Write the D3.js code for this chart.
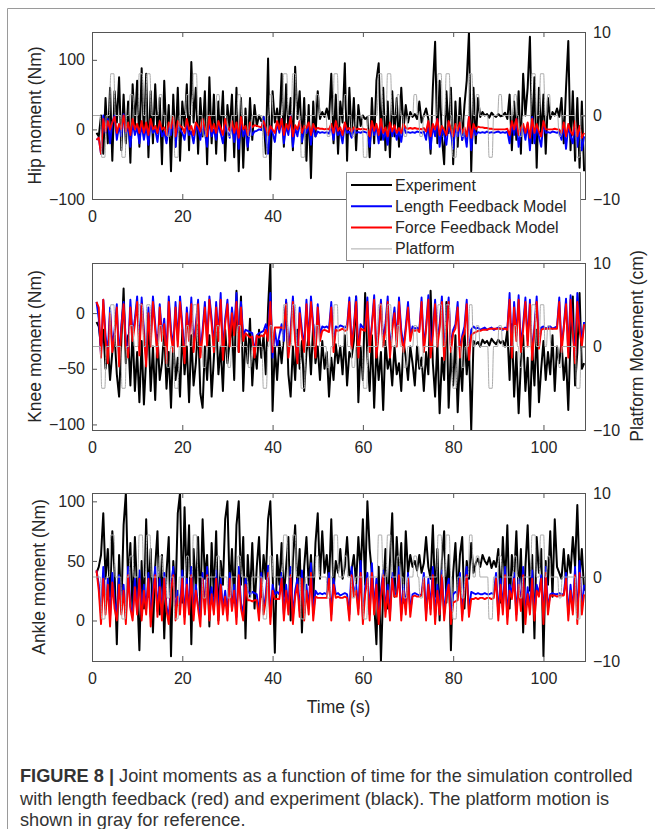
<!DOCTYPE html>
<html>
<head>
<meta charset="utf-8">
<script src="https://d3js.org/d3.v7.min.js"></script>
<style>
  body { margin: 0; background: #fff; }
  svg text { font-family: "Liberation Sans", Arial, sans-serif; }
</style>
</head>
<body>
<div id="chart"></div>
<script>
// samples start at 1 s, one every 0.5 s (217 samples up to 109 s)
var tStart = 1, tStep = 0.5

// ---- hip moment (Nm) ----
var hipExp = [
  -5, -10, 20, -35, 45, -20, 60, -45, 55, 10, 75, -30, 50, -20, 40, -48, 65, 5, 70, -25,
  88, -10, 80, -40, 55, -20, 65, -5, 45, -50, 70, -15, 35, -60, 50, -25, 60, -45, 40, 5,
  65, -30, 97, 10, 60, -35, 45, -10, 55, -50, 75, -20, 50, -35, 40, -5, 55, -45, 35, 0,
  50, -40, 60, -60, 45, -55, 30, -30, 45, -15, 35, 5, 20, 12, 18, -35, 102, -72, 55, 10,
  30, 5, 80, -25, 65, 0, 45, -30, 90, 15, 55, -20, 45, -45, 35, -70, 40, -10, 55, 15,
  25, 18, 30, 15, 80, -20, 50, -35, 40, 10, 95, -45, 60, -10, 45, -30, 35, 5, 20, 15,
  18, -40, 45, -20, 70, 95, -15, 60, -30, 40, -40, 55, -10, 45, -25, 60, 0, 35, 10, 25,
  18, 22, 15, 40, 10, 20, 30, 15, -35, 60, 126, -20, 70, -10, -50, 55, -5, 60, -50, 40,
  -25, 45, -15, 35, 70, 140, -60, 60, -20, 45, 18, 25, 20, 22, 17, 24, 20, 18, 22, 19,
  20, 24, 15, 50, -30, 40, -15, 55, -35, 80, 20, 60, 133, -20, 75, -55, 60, -10, 50, -35,
  45, 15, 25, 20, 30, 18, 45, -20, 60, 127, -30, 55, -45, 45, -55, 40, -60]
var hipLen = [
  -15, -12, -35, 20, -5, 15, -20, 10, 20, -15, 5, -10, 22, -5, 5, -25, 10, -8, 3, -20,
  8, -15, 5, -22, 12, -5, 0, -18, 10, -10, -3, -20, 5, -8, 15, -25, 8, 0, -5, -15,
  10, -8, -3, -20, 5, 0, -15, 10, -5, -25, 15, -10, 0, -15, 8, -5, -20, 10, -3, -12,
  8, -18, 5, -28, 15, -10, 0, -25, 5, -8, -3, -2, 0, -1, 18, -10, -35, 5, -5, -18,
  10, -5, 15, -20, 5, -8, 20, -25, 3, -10, 12, -18, 0, -5, 8, -22, 5, -10, -3, -5,
  -4, -5, -4, -6, 5, -15, 10, -8, -3, -20, 8, -5, -3, -12, 0, -5, -4, -5, -3, -4,
  -5, -25, 10, -8, 5, -20, 12, -15, -3, -22, 8, -10, 3, -15, -2, -18, 5, -5, -4, -5,
  -4, -5, -3, -4, -5, -3, -15, 10, -28, 5, -10, 15, -25, 3, -8, -22, 10, -5, -28, 5,
  -10, 8, -15, -3, -25, 18, -30, 5, -8, -4, -5, -4, -5, -3, -5, -4, -5, -4, -3, -5,
  -4, -5, -3, -20, 10, -8, 15, -25, -3, 5, -15, 8, -30, 18, -20, 5, -10, -25, 10, -5,
  -4, -5, -3, -4, -5, -3, -15, 8, -28, 5, -10, -20, 10, -25, 3, -30, -10]
var hipFor = [
  -15, -12, -35, 15, -3, 12, 0, 10, 18, -5, 8, 0, 20, -3, 10, -8, 15, 0, 8, -5,
  12, -5, 10, -8, 15, 0, 5, -5, 12, 0, 3, -8, 10, 2, 18, -10, 12, 5, 3, -5,
  15, 0, 5, -8, 10, 5, -3, 15, 2, -10, 20, -3, 8, -5, 12, 2, -8, 15, 3, -2,
  12, -5, 10, -12, 18, 0, 5, -8, 10, 3, 6, 5, 4, 3, 12, 2, -8, 5, 0, -5,
  12, 0, 15, -8, 8, 0, 18, -10, 6, 0, 12, -5, 5, 2, 10, -8, 8, 0, 2, 1,
  1, 0, 1, 0, 8, -5, 12, -2, 3, -8, 10, 0, 2, -3, 3, 0, 1, 0, 1, 0,
  0, -10, 12, -2, 8, -8, 15, -5, 3, -10, 10, -3, 6, -5, 2, -5, 8, 2, 1, 2,
  1, 2, 1, 1, 0, 2, -3, 12, -10, 8, 0, 15, -8, 5, 0, -8, 12, 0, -10, 8,
  -2, 10, -5, 3, -10, 18, -12, 8, 0, 4, 3, 3, 2, 2, 1, 1, 0, 0, 0, 0,
  0, 0, 1, -8, 12, 0, 15, -8, 2, 8, -5, 10, -12, 15, -5, 8, -3, -10, 12, 0,
  0, 0, 0, 1, 0, 0, -5, 10, -10, 8, -3, -8, 12, -10, 5, -12, -5]

// ---- knee moment (Nm) ----
var kneeExp = [
  -8, -12, -30, -15, -50, -28, -60, -35, -20, -55, -75, -25, 22, -45, -20, -65, -15, -70, -35, -80,
  -25, -82, -40, -10, -70, -30, -78, -20, -60, -45, -15, -68, -35, -85, -25, -60, -40, -75, -15, -55,
  -30, -80, -20, -65, -45, -10, -72, -85, -30, -60, -20, -75, -40, -5, -55, -30, -70, -15, -45, -25,
  -10, -60, 20, -35, 15, -70, -20, -45, -5, -65, -30, -50, -15, -40, -20, -55, 5, 45, -88, -30,
  -60, -25, -45, -20, 10, -55, -75, -30, -60, -15, -50, -25, -70, -35, -20, -55, -10, -45, -30, -60,
  -25, -50, -35, -75, -40, -60, -28, -45, -30, -55, -20, -65, -35, -40, -25, 15, -80, -30, -60, 18,
  -40, -70, -20, -85, -30, -60, -35, -87, -25, -50, -40, -65, -30, -55, -45, -70, -25, -40, -60, -30,
  -45, -65, -30, -50, -40, -70, -35, -55, 20, -45, -75, -25, -90, -40, -60, 10, -85, -35, -65, -20,
  -89, -40, -70, -15, -55, -30, -105, -25, -28, -26, -30, -24, -27, -25, -29, -23, -26, -28, -24, -27,
  -25, -30, -15, -60, -10, -75, -35, -90, -45, -20, -70, -40, -93, -30, -65, -15, -80, -50, -25, -60,
  -35, -55, -20, -70, -30, -45, -25, -60, -40, -87, -20, 15, -65, -35, 18, -50, -45]
var kneeLen = [
  10, -5, -38, 12, -20, -35, 5, -30, -15, 8, -40, -10, 10, -25, -35, 12, -20, -5, 15, -30,
  14, -15, -40, 5, -25, 15, -10, -35, 8, -20, -5, -38, 15, -15, -30, 10, -25, 15, -10, -40,
  5, -20, 14, -30, -10, 12, -35, -15, 10, -25, 15, -5, -30, 10, -20, 18, -35, -5, 12, -25,
  5, -15, 18, -30, 10, -20, -15, -16, -17, -18, -35, -20, -18, -17, -16, -10, -20, 18, -40, -15,
  -30, -20, -10, -25, 12, -35, -15, 15, -20, -40, 5, -15, -30, 12, -25, 15, -10, -35, 8, -20,
  -12, -13, -12, -14, 10, -30, -12, -13, -11, -12, -13, -12, 14, -28, -12, 15, -35, -10, -13, -12,
  14, -30, -10, 16, -35, -15, 12, -25, -10, 15, -35, -12, 5, -25, 14, -15, -30, -12, 10, -20,
  -12, -14, -13, -15, 14, -30, -12, 16, -35, -15, 12, -25, -10, 15, -35, -12, 14, -30, -15, -10,
  10, -35, -20, -12, 12, -38, -15, -12, -14, -13, -15, -14, -13, -15, -14, -13, -15, -14, -13, -14,
  -15, -13, -14, 18, -35, 10, -20, 16, -30, -10, 14, -25, 12, -38, -12, 15, -28, -13, -12, -14,
  -13, -12, -14, -13, -12, 14, -30, -12, 13, -35, 16, -15, -40, 18, -10, -25, -8]
var kneeFor = [
  10, 5, -40, 12, -25, -45, 0, -35, -20, 5, -48, -15, 8, -30, -40, 5, -25, -10, 10, -38,
  8, -20, -48, 0, -30, 10, -15, -40, 5, -25, -10, -45, 10, -20, -35, 5, -30, 10, -15, -45,
  0, -25, 8, -35, -15, 8, -40, -20, 5, -30, 12, -10, -35, 5, -25, 12, -42, -10, 8, -30,
  0, -20, 10, -35, 5, -25, -18, -20, -22, -21, -40, -20, -22, -20, -21, -15, -25, 10, -35, -13,
  -13, -13, -13, -14, 8, -40, -20, 10, -25, -45, 0, -20, -35, 8, -30, 10, -15, -40, 5, -25,
  -16, -15, -16, -17, 5, -35, -15, -16, -15, -14, -16, -15, 10, -32, -14, 10, -40, -14, -15, -16,
  10, -35, -12, 12, -40, -18, 8, -30, -15, 10, -40, -15, 0, -30, 10, -20, -35, -16, 5, -25,
  -15, -16, -15, -17, 10, -35, -15, 12, -40, -20, 8, -30, -14, 10, -42, -16, 10, -35, -18, -14,
  5, -40, -22, -18, 8, -42, -20, -18, -17, -16, -16, -15, -15, -15, -14, -14, -14, -14, -14, -14,
  -14, -14, -15, 12, -40, 5, -25, 12, -35, -15, 10, -30, 8, -42, -16, 10, -32, -15, -14, -14,
  -14, -14, -14, -14, -14, 10, -35, -14, 8, -40, 12, -18, -45, 10, -15, -30, -10]

// ---- ankle moment (Nm) ----
var ankleExp = [
  40, 45, 55, 90, 35, 60, 20, 75, 40, -20, 55, 10, 80, 107, 30, 65, 5, 70, 25, -25,
  50, 10, 85, 20, 60, -10, 45, 75, 5, 55, -15, 40, 70, -30, 50, 20, 90, 107, 15, 95,
  30, 80, -20, 60, 25, 70, 10, 85, 35, 55, -5, 65, 20, 75, 0, 50, 30, 85, 100, 25,
  60, 15, 80, 100, 30, 70, -15, 55, 20, 65, 10, 45, 70, 20, 55, 35, 85, 100, 40, -27,
  55, 30, 65, 20, 45, 70, 0, 50, 80, 25, 60, -10, 45, 70, 30, 55, 15, 65, 90, 35,
  75, 40, 55, 30, 85, 25, 50, 40, 60, 35, 45, 70, 38, 42, 55, 30, 70, 40, 85, 30,
  100, 60, 40, 15, -20, 45, -34, 25, 60, 10, 50, 90, 20, 70, 35, 65, 15, 75, 40, 55,
  45, 50, 42, 55, 40, 48, 70, 45, 35, 80, 20, 60, 0, 50, 75, 15, 55, -25, 40, 65,
  20, 55, 70, 10, 50, 35, 65, 40, 48, 52, 45, 55, 50, 47, 53, 44, 50, 45, 60, 15,
  70, 30, 80, 10, 55, 35, 75, 20, 60, -10, 45, 80, 25, 55, -15, 70, 40, 60, -30, 50,
  30, 75, 20, 85, 45, 40, 35, 60, 30, 55, 40, 70, 45, 97, 35, 60, 25]
var ankleLen = [
  42, 30, 5, 45, 10, 35, 3, 40, 15, 5, 38, 8, 30, 3, 45, 12, 5, 35, 8, 42,
  5, 30, 10, 40, 3, 25, 45, 8, 35, 5, 40, 12, 3, 30, 45, 5, 25, 10, 42, 3,
  35, 8, 45, 5, 30, 12, 3, 40, 10, 45, 5, 28, 8, 42, 3, 35, 10, 25, 5, 40,
  10, 30, 3, 45, 15, 5, 35, 25, 22, 24, 23, 22, 5, 40, 8, 22, 46, 3, 30, 22,
  24, 22, 40, 5, 30, 10, 45, 3, 25, 35, 8, 42, 5, 30, 10, 48, 5, 25, 22, 23,
  22, 23, 22, 40, 5, 35, 22, 23, 21, 22, 23, 22, 5, 45, 22, 30, 10, 50, 3, 28,
  40, 5, 48, 10, 35, 3, 25, 42, 8, 30, 5, 40, 22, 23, 45, 5, 30, 10, 40, 8,
  22, 23, 22, 21, 22, 40, 5, 35, 10, 45, 3, 30, 8, 42, 5, 25, 35, 3, 22, 24,
  23, 40, 5, 30, 45, 8, 24, 23, 22, 23, 22, 22, 23, 22, 22, 23, 22, 40, 5, 35,
  10, 45, 3, 30, 22, 40, 5, 35, 12, 45, 3, 28, 10, 42, 5, 30, 22, 38, 3, 45,
  10, 22, 23, 22, 22, 23, 22, 22, 40, 5, 30, 8, 45, 3, 50, 10, 30]
var ankleFor = [
  42, 25, -3, 35, 5, 30, -5, 32, 10, 0, 30, 5, 25, -3, 38, 10, 0, 28, 5, 35,
  0, 25, 5, 35, -5, 20, 38, 3, 28, 0, 35, 8, -3, 25, 38, 0, 20, 5, 35, -3,
  30, 5, 38, 0, 25, 10, -5, 35, 5, 38, 0, 22, 5, 35, -3, 30, 5, 20, 0, 35,
  8, 25, -3, 38, 10, 0, 30, 17, 17, 16, 17, 17, 0, 35, 5, 17, 40, -3, 25, 18,
  18, 18, 35, 0, 25, 5, 38, -3, 20, 30, 3, 35, 0, 25, 5, 40, 0, 20, 19, 19,
  19, 19, 19, 35, 0, 30, 19, 20, 19, 19, 20, 19, 0, 38, 20, 25, 5, 40, -3, 22,
  35, 0, 40, 5, 30, -3, 20, 38, 3, 25, 0, 35, 20, 20, 38, 0, 25, 5, 35, 3,
  20, 21, 20, 20, 21, 35, 0, 30, 5, 38, -3, 25, 5, 38, 0, 20, 30, -3, 15, 16,
  17, 35, 0, 25, 38, 3, 18, 18, 19, 18, 19, 19, 18, 19, 19, 18, 19, 35, 0, 30,
  5, 38, -3, 25, 18, 35, 0, 30, 8, 38, -3, 22, 5, 35, 0, 25, 20, 35, -3, 40,
  5, 21, 21, 21, 20, 21, 21, 21, 35, 0, 25, 5, 38, -3, 40, 5, 22]

// ---- platform movement (cm): pulses away from 0 ----
var pulseStart = [2.0, 4.0, 6.5, 8.3, 10.3, 12.0, 14.8, 16.5, 18.2, 20.8, 22.3, 24.5, 27.5, 30.0, 32.2, 34.5,
  37.8, 39.3, 42.3, 44.3, 46.2, 49.5, 52.0, 53.5, 55.8, 57.5, 60.0, 63.3, 65.3, 67.5, 69.0, 71.2,
  72.5, 76.5, 78.3, 79.8, 81.8, 83.5, 85.0, 87.8, 90.0, 93.4, 94.6, 97.3, 99.2, 100.8, 103.3, 107.2]
var pulseEnd = [3.0, 5.0, 7.5, 9.2, 11.3, 13.0, 15.6, 17.3, 19.2, 21.5, 23.3, 25.3, 28.3, 30.8, 33.0, 35.3,
  38.8, 40.0, 43.3, 45.2, 47.2, 50.3, 52.8, 54.5, 56.5, 58.3, 61.0, 64.3, 66.3, 68.2, 69.8, 72.0,
  73.3, 77.5, 79.3, 80.8, 82.5, 84.3, 85.8, 88.8, 90.8, 94.1, 95.3, 98.3, 100.2, 101.5, 104.0, 108.2]
var pulseCm = [-5, 5, -5, 2.5, 5, 5, 2.5, -2.5, -5, 2.5, 5, -2.5, 2.5, -2.5, 2.5, -2.5,
  -5, 2.5, 5, 5, -5, 2.5, -2.5, 5, 2.5, -2.5, -5, 5, 5, 2.5, -2.5, 2.5,
  -2.5, 5, 5, -5, -2.5, 5, 2.5, -5, 2.5, 2.5, -2.5, 5, 5, 2.5, -2.5, -5]

var xTicks = [0, 20, 40, 60, 80, 100]
var rightTicks = [-10, 0, 10]
var hipTicks = [-100, 0, 100]
var kneeTicks = [-100, -50, 0]
var ankleTicks = [0, 50, 100]
var legendLabels = ["Experiment", "Length Feedback Model", "Force Feedback Model", "Platform"]

var width = 655, height = 829
var left = 92, right = 585
var axisColor = "#555", textColor = "#262626"
var legendBox = {x: 346.5, y: 172.5, w: 234, h: 88}

var svg = d3.select("#chart").append("svg")
  .attr("width", width)
  .attr("height", height)

// page frame
svg.append("path")
  .attr("d", "M7.5," + height + " V8.5 H" + width)
  .attr("fill", "none")
  .attr("stroke", "#9a9a9a")

var x = d3.scaleLinear().domain([0, 109.2]).range([left, right])

// platform trace: short ramps at each pulse edge
var ramp = 0.15
var platform = [[0, 0]]
for (var i = 0; i < pulseStart.length; i++) {
  platform.push([pulseStart[i] - ramp, 0], [pulseStart[i] + ramp, pulseCm[i]],
    [pulseEnd[i] - ramp, pulseCm[i]], [pulseEnd[i] + ramp, 0])
}
platform.push([109.2, 0])

var panels = [
  {name: "Hip moment (Nm)", top: 32, bottom: 199, domain: [-100, 140], ticks: hipTicks,
   exp: hipExp, len: hipLen, frc: hipFor, labelX: 41},
  {name: "Knee moment (Nm)", top: 263, bottom: 430, domain: [-105, 45], ticks: kneeTicks,
   exp: kneeExp, len: kneeLen, frc: kneeFor, labelX: 41},
  {name: "Ankle moment (Nm)", top: 493, bottom: 661, domain: [-34, 107], ticks: ankleTicks,
   exp: ankleExp, len: ankleLen, frc: ankleFor, labelX: 45}
]

function styleAxis(g) {
  g.select(".domain").remove()
  g.selectAll(".tick line").attr("stroke", axisColor)
  g.selectAll(".tick text").attr("fill", textColor).style("font-size", "16px")
}

panels.forEach(function(p, k) {
  var y = d3.scaleLinear().domain(p.domain).range([p.bottom, p.top])
  var yR = d3.scaleLinear().domain([-10, 10]).range([p.bottom, p.top])

  svg.append("clipPath").attr("id", "clip" + k)
    .append("rect")
    .attr("x", left).attr("y", p.top)
    .attr("width", right - left).attr("height", p.bottom - p.top)

  var plot = svg.append("g").attr("clip-path", "url(#clip" + k + ")")

  var line = d3.line()
    .x(function(d, i) { return x(tStart + i * tStep) })
    .y(function(d) { return y(d) })

  plot.append("path").datum(p.exp).attr("d", line)
    .attr("fill", "none").attr("stroke", "#000").attr("stroke-width", 2).attr("stroke-linejoin", "round")
  plot.append("path").datum(p.len).attr("d", line)
    .attr("fill", "none").attr("stroke", "#0000ff").attr("stroke-width", 1.9).attr("stroke-linejoin", "round")
  plot.append("path").datum(p.frc).attr("d", line)
    .attr("fill", "none").attr("stroke", "#ff0000").attr("stroke-width", 1.9).attr("stroke-linejoin", "round")

  var pline = d3.line()
    .x(function(d) { return x(d[0]) })
    .y(function(d) { return yR(d[1]) })
    .curve(d3.curveMonotoneX)
  plot.append("path").datum(platform).attr("d", pline)
    .attr("fill", "none").attr("stroke", "#ababab").attr("stroke-width", 1)

  // box
  svg.append("rect")
    .attr("x", left + 0.5).attr("y", p.top + 0.5)
    .attr("width", right - left).attr("height", p.bottom - p.top)
    .attr("fill", "none").attr("stroke", axisColor)

  // the legend hides the bottom labels of the first panel that fall under it
  var hidden = function(v) {
    return k === 0 && x(v) > legendBox.x - 10 && x(v) < legendBox.x + legendBox.w + 10
  }

  // axes with inward ticks
  svg.append("g").attr("transform", "translate(0," + p.bottom + ")")
    .call(d3.axisBottom(x).tickValues(xTicks).tickSizeInner(-5).tickSizeOuter(0).tickPadding(12)
      .tickFormat(function(v) { return hidden(v) ? "" : v }))
    .call(styleAxis)
  svg.append("g").attr("transform", "translate(0," + p.top + ")")
    .call(d3.axisTop(x).tickValues(xTicks).tickSizeInner(-5).tickSizeOuter(0).tickFormat(""))
    .call(styleAxis)
  svg.append("g").attr("transform", "translate(" + left + ",0)")
    .call(d3.axisLeft(y).tickValues(p.ticks).tickSizeInner(-5).tickSizeOuter(0).tickPadding(7))
    .call(styleAxis)
  svg.append("g").attr("transform", "translate(" + right + ",0)")
    .call(d3.axisRight(yR).tickValues(rightTicks).tickSizeInner(-5).tickSizeOuter(0).tickPadding(8))
    .call(styleAxis)

  svg.append("text")
    .attr("transform", "translate(" + p.labelX + "," + ((p.top + p.bottom) / 2) + ") rotate(-90)")
    .attr("text-anchor", "middle")
    .attr("fill", textColor)
    .style("font-size", "17.5px")
    .text(p.name)
})

svg.append("text")
  .attr("transform", "translate(643,346) rotate(-90)")
  .attr("text-anchor", "middle")
  .attr("fill", textColor)
  .style("font-size", "17.5px")
  .text("Platform Movement (cm)")

svg.append("text")
  .attr("x", (left + right) / 2).attr("y", 713)
  .attr("text-anchor", "middle")
  .attr("fill", textColor)
  .style("font-size", "17.5px")
  .text("Time (s)")

// legend
var legendColors = ["#000", "#0000ff", "#ff0000", "#ababab"]
var legendWidths = [2, 2, 2, 1]
var lg = svg.append("g")
lg.append("rect")
  .attr("x", legendBox.x).attr("y", legendBox.y).attr("width", legendBox.w).attr("height", legendBox.h)
  .attr("fill", "#fff").attr("stroke", "#8c8c8c")
legendLabels.forEach(function(name, i) {
  var yy = 185 + i * 21.3
  lg.append("line")
    .attr("x1", 351).attr("x2", 392).attr("y1", yy).attr("y2", yy)
    .attr("stroke", legendColors[i]).attr("stroke-width", legendWidths[i])
  lg.append("text")
    .attr("x", 395).attr("y", yy + 5.5)
    .attr("fill", textColor)
    .style("font-size", "16px")
    .text(name)
})

// caption
var cap = svg.append("g").attr("fill", "#333").style("font-size", "18.2px")
var l1 = cap.append("text").attr("x", 20).attr("y", 782)
l1.append("tspan").style("font-weight", "bold").text("FIGURE 8 |")
l1.append("tspan").text(" Joint moments as a function of time for the simulation controlled")
cap.append("text").attr("x", 20).attr("y", 805)
  .text("with length feedback (red) and experiment (black). The platform motion is")
cap.append("text").attr("x", 20).attr("y", 826)
  .text("shown in gray for reference.")
</script>
</body>
</html>
